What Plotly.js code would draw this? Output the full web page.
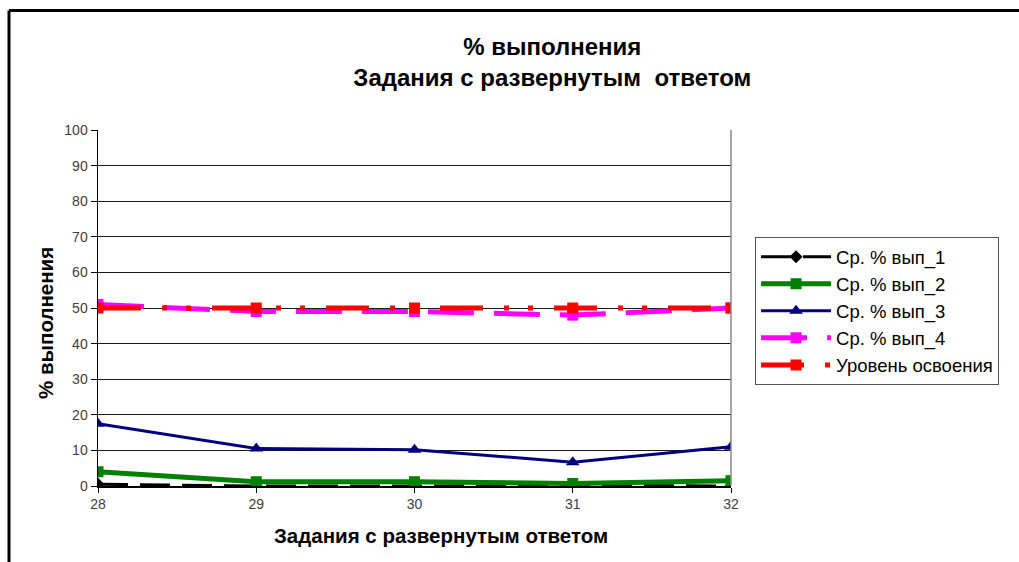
<!DOCTYPE html>
<html>
<head>
<meta charset="utf-8">
<script src="https://cdn.plot.ly/plotly-3.0.1.min.js"></script>
<style>
html,body{margin:0;padding:0;background:#fff;}
#chart{width:1019px;height:562px;}
</style>
</head>
<body>
<div id="chart"></div>
<script>
const categories = [28, 29, 30, 31, 32];
const seriesNames = ["Ср. % вып_1", "Ср. % вып_2", "Ср. % вып_3", "Ср. % вып_4", "Уровень освоения"];
const vyp1 = [0.5, 0, 0, 0.2, 0];
const vyp2 = [4, 1.2, 1.2, 0.7, 1.5];
const vyp3 = [17.5, 10.5, 10.2, 6.7, 11];
const vyp4 = [51, 49, 49, 48, 50];
const level = [50, 50, 50, 50, 50];
const yTicks = [0, 10, 20, 30, 40, 50, 60, 70, 80, 90, 100];

const FONT = "Liberation Sans, Arial, sans-serif";

const traces = [
  {x: categories, y: vyp1, name: seriesNames[0], mode: "lines+markers",
   line: {color: "#000000", width: 3, dash: "30px,12px"},
   marker: {symbol: "diamond", size: 10, color: "#000000"}},
  {x: categories, y: vyp2, name: seriesNames[1], mode: "lines+markers",
   line: {color: "#008000", width: 5},
   marker: {symbol: "square", size: 11, color: "#008000"}},
  {x: categories, y: vyp3, name: seriesNames[2], mode: "lines+markers",
   line: {color: "#000080", width: 3},
   marker: {symbol: "triangle-up", size: 12, color: "#000080"}},
  {x: categories, y: vyp4, name: seriesNames[3], mode: "lines+markers",
   line: {color: "#FF00FF", width: 5, dash: "46px,20px"},
   marker: {symbol: "square", size: 11, color: "#FF00FF"}},
  {x: categories, y: level, name: seriesNames[4], mode: "lines+markers",
   line: {color: "#FF0000", width: 5, dash: "43px,21px,5px,19px,5px,21px"},
   marker: {symbol: "square", size: 11, color: "#FF0000"}}
];

const layout = {
  width: 1019, height: 562,
  margin: {l: 98, r: 288, t: 130, b: 76},
  paper_bgcolor: "#ffffff", plot_bgcolor: "#ffffff",
  font: {family: FONT, color: "#000"},
  showlegend: true,
  title: {
    text: "<b>% выполнения<br>Задания с развернутым  ответом</b>",
    font: {family: FONT, size: 24, color: "#000"},
    xref: "container", x: 0.542, xanchor: "center",
    yref: "container", y: 0.903, yanchor: "middle"
  },
  xaxis: {
    range: [28, 32], tickvals: categories, ticktext: categories.map(String),
    showgrid: false, zeroline: false,
    showline: true, linecolor: "#000", linewidth: 1.5,
    ticks: "outside", ticklen: 5, tickcolor: "#000",
    tickfont: {family: FONT, size: 14, color: "#404040"}
  },
  yaxis: {
    range: [0, 100], tickvals: yTicks,
    showgrid: true, gridcolor: "#1a1a1a", gridwidth: 1,
    zeroline: false, showline: true, linecolor: "#000", linewidth: 1.5,
    ticks: "outside", ticklen: 6, tickcolor: "#000",
    tickfont: {family: FONT, size: 14, color: "#404040"}
  },
  legend: {
    x: 1.038, y: 0.699, xanchor: "left", yanchor: "top",
    bgcolor: "#fff", bordercolor: "#555", borderwidth: 1,
    font: {family: FONT, size: 18.5, color: "#000"},
    tracegroupgap: 0, itemwidth: 70
  },
  annotations: [
    {text: "<b>Задания с развернутым ответом</b>", xref: "paper", yref: "paper",
     x: (441 - 98) / 633, y: (486 - 535) / 356, xanchor: "center", yanchor: "middle",
     showarrow: false, font: {family: FONT, size: 20.5, color: "#000"}},
    {text: "<b>% выполнения</b>", xref: "paper", yref: "paper",
     x: (45 - 98) / 633, y: (486 - 323) / 356, xanchor: "center", yanchor: "middle",
     textangle: -90, showarrow: false, font: {family: FONT, size: 20.5, color: "#000"}}
  ],
  shapes: [
    {type: "line", xref: "paper", yref: "paper", x0: 1, x1: 1, y0: 0, y1: 1,
     line: {color: "#888", width: 1.5}},
    {type: "line", xref: "paper", yref: "paper",
     x0: (9 - 98) / 633, x1: (9 - 98) / 633, y0: (486 - 10.5) / 356, y1: (486 - 570) / 356,
     line: {color: "#000", width: 3}},
    {type: "line", xref: "paper", yref: "paper",
     x0: (9 - 98) / 633, x1: (1025 - 98) / 633, y0: (486 - 10.5) / 356, y1: (486 - 10.5) / 356,
     line: {color: "#000", width: 3}}
  ]
};

Plotly.newPlot("chart", traces, layout, {displayModeBar: false, staticPlot: true});
</script>
</body>
</html>
